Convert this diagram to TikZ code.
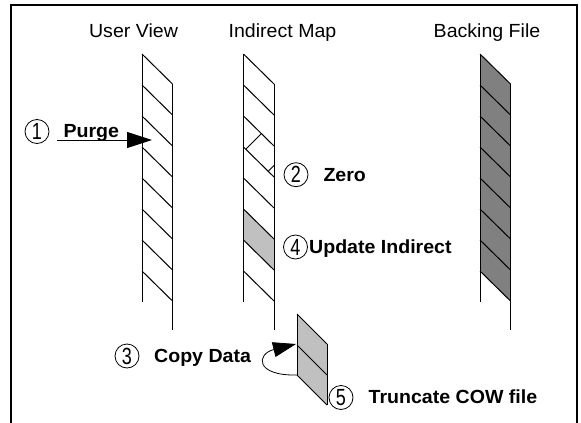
\documentclass[tikz,border=0pt]{standalone}
\usepackage{fontspec}
\setmainfont{Liberation Sans}
\usetikzlibrary{arrows.meta}
\definecolor{cowgrey}{HTML}{C0C0C0}
\definecolor{backgrey}{HTML}{808080}
% slightly widened lettering and tall circled digits
\newcommand{\wtxt}[1]{\scalebox{1.03}[1]{#1}}
\newcommand{\cnum}[1]{\scalebox{1}[1.3]{#1}}

\begin{document}
\begin{tikzpicture}[x=1pt,y=-1pt,
  title/.style={font=\fontsize{19}{21}\selectfont, anchor=base, inner sep=0pt},
  steplabel/.style={font=\bfseries\fontsize{19}{21}\selectfont, anchor=base west, inner sep=0pt},
  stepnum/.style={draw, line width=0.8pt, circle, minimum size=24pt, inner sep=0pt,
                  font=\fontsize{18}{18}\selectfont},
  edge/.style={line width=0.8pt},
  stripe/.style={line width=1pt},
  bigtip/.style={-{Triangle[length=25pt,width=16pt]}, line width=0.9pt}
]
\useasboundingbox (0,0) rectangle (581,423);

% outer frame (open at the bottom)
\draw[line width=2pt] (11,440) -- (11,5) -- (577,5) -- (577,440);

% shaded cells
\fill[backgrey] (480,54) -- (510.5,84) -- (510.5,301) -- (480,271) -- cycle;
\fill[cowgrey] (243.5,209) -- (274,239) -- (274,270) -- (243.5,240) -- cycle;

% the three striped columns
\foreach \L in {142,243.5,480}{
  \draw[edge] (\L,54) -- (\L,302);
  \draw[edge] ({\L+30.5},84) -- ({\L+30.5},330);
  \foreach \k in {0,...,7}
    \draw[stripe] (\L,{54+31*\k}) -- ++(30.5,30);
}

% zeroed marks in the indirect map
\draw[edge] (261,134) -- (246,149);
\draw[edge] (268,171.5) -- (274,165.5);

% copy-on-write file
\fill[cowgrey] (297,314) -- (327,344) -- (327,405) -- (297,375) -- cycle;
\draw[edge] (297,314) -- (327,344);
\draw[edge] (297,345) -- (327,375);
\draw[edge] (297,375) -- (327,405);
\draw[edge] (297,314) -- (297,375);
\draw[edge] (327,344) -- (327,405);

% column titles
\node[title] (tuser) at (133.5,37.7) {\wtxt{User View}};
\node[title] (tmap)  at (282.5,37.7) {\wtxt{Indirect Map}};
\node[title] (tback) at (487,37.7)   {\wtxt{Backing File}};

% numbered steps
\node[stepnum] (s1) at (37,131.5)  {\cnum{1}};
\node[stepnum] (s2) at (296,174.7) {\cnum{2}};
\node[stepnum] (s3) at (127,356)   {\cnum{3}};
\node[stepnum] (s4) at (295.5,247) {\cnum{4}};
\node[stepnum] (s5) at (341,397.5) {\cnum{5}};

\node[steplabel] (purge) at (63.3,137.7)  {\wtxt{Purge}};
\node[steplabel] (zero)  at (323.3,181)   {\wtxt{Zero}};
\node[steplabel] (upd)   at (309,253)     {\wtxt{Update Indirect}};
\node[steplabel] (copy)  at (154,362)     {\wtxt{Copy Data}};
\node[steplabel] (trunc) at (368.5,403.3) {\wtxt{Truncate COW file}};

% purge arrow into the user view
\coordinate (pstart) at (57,140);
\coordinate (ptip) at (152,140);
\draw[bigtip] (pstart) -- (ptip);

% copy loop onto the COW file
\coordinate (cstart) at (297,375);
\coordinate (ctip) at (296,344);
\draw[line width=0.8pt, -{Triangle[length=23pt,width=15pt]}]
  (cstart) .. controls (255,376) and (256,354) .. (ctip);
\end{tikzpicture}
\end{document}
